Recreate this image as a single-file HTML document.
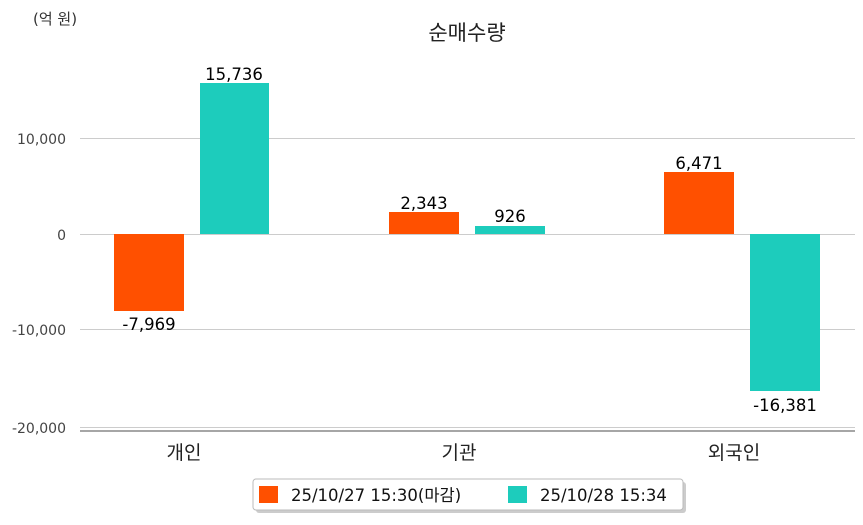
<!DOCTYPE html>
<html><head><meta charset="utf-8"><style>
body{margin:0;width:863px;height:520px;background:#fff;overflow:hidden}
</style></head><body>
<svg width="863" height="520" xmlns="http://www.w3.org/2000/svg" font-family="'DejaVu Sans','Noto Sans CJK KR',sans-serif">
<text x="33" y="24" font-size="15" fill="#333">(억 원)</text>
<text x="467" y="40" font-size="21" fill="#222" text-anchor="middle">순매수량</text>
<g stroke="#ccc" stroke-width="1">
<line x1="80" y1="138.5" x2="855" y2="138.5"/>
<line x1="80" y1="234.5" x2="855" y2="234.5"/>
<line x1="80" y1="329.5" x2="855" y2="329.5"/>
<line x1="80" y1="427.5" x2="855" y2="427.5"/>
</g>
<line x1="80" y1="431" x2="855" y2="431" stroke="#888" stroke-width="1.5"/>
<g font-size="14" fill="#444" text-anchor="end">
<text x="66" y="144">10,000</text>
<text x="66" y="240">0</text>
<text x="66" y="335">-10,000</text>
<text x="66" y="433">-20,000</text>
</g>
<rect x="114" y="234" width="70" height="77" fill="#ff5000"/>
<rect x="200" y="83" width="69" height="151" fill="#1dccbc"/>
<rect x="389" y="212" width="70" height="22" fill="#ff5000"/>
<rect x="475" y="226" width="70" height="8" fill="#1dccbc"/>
<rect x="664" y="172" width="70" height="62" fill="#ff5000"/>
<rect x="750" y="234" width="70" height="157" fill="#1dccbc"/>
<g font-size="16.5" fill="#000" text-anchor="middle">
<text x="149" y="330">-7,969</text>
<text x="234" y="80">15,736</text>
<text x="424" y="209">2,343</text>
<text x="510" y="222">926</text>
<text x="699" y="169">6,471</text>
<text x="785" y="411">-16,381</text>
</g>
<g font-size="19" fill="#222" text-anchor="middle">
<text x="184" y="459">개인</text>
<text x="459" y="459">기관</text>
<text x="734" y="459">외국인</text>
</g>
<rect x="256" y="482" width="430" height="31" rx="3" fill="#999" opacity="0.5"/>
<rect x="253" y="479" width="430" height="31" rx="3" fill="#fff" stroke="#bbb"/>
<rect x="259" y="486" width="19" height="17" fill="#ff5000"/>
<text x="291" y="501" font-size="16.5" fill="#111">25/10/27 15:30(마감)</text>
<rect x="508" y="486" width="19" height="17" fill="#1dccbc"/>
<text x="540" y="501" font-size="16.5" fill="#111">25/10/28 15:34</text>
</svg>
</body></html>
